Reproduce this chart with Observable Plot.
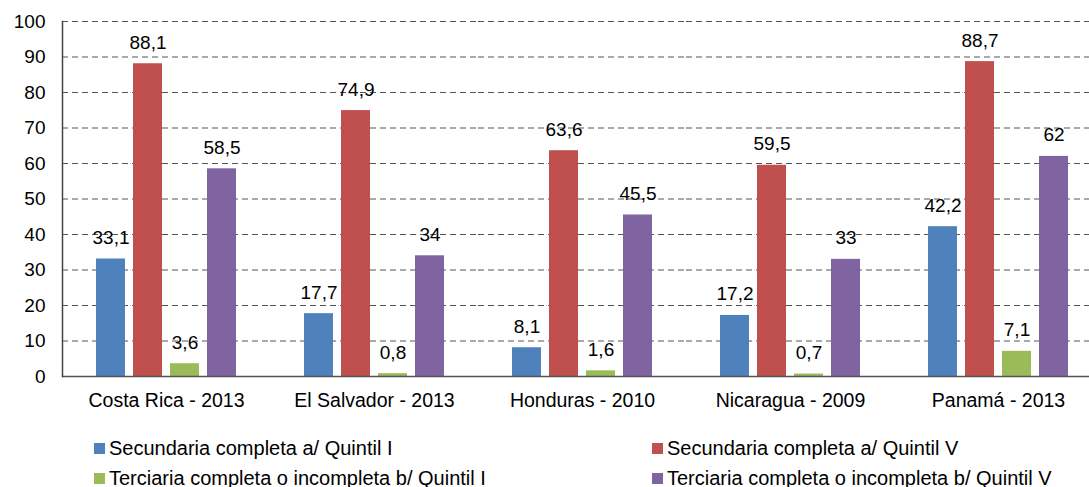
<!DOCTYPE html>
<html>
<head>
<meta charset="utf-8">
<script src="https://cdn.jsdelivr.net/npm/d3@7"></script>
<script src="https://cdn.jsdelivr.net/npm/@observablehq/plot@0.6"></script>
<style>
  html, body { margin: 0; padding: 0; background: #fff; overflow: hidden; }
  body { font-family: "Liberation Sans", Arial, sans-serif; width: 1089px; }
  #chart svg { display: block; max-width: none !important; }
  .legend { display: grid; grid-template-columns: 558px auto; padding-left: 94px; padding-top: 13px; font-size: 20px; color: #000; }
  .legend .item { display: flex; align-items: center; height: 30px; white-space: nowrap; }
  .legend .sw { width: 11px; height: 11px; margin-right: 4px; flex: none; }
</style>
</head>
<body>
<div id="chart"></div>
<div class="legend" id="legend"></div>
<script>
const categories = ["Costa Rica - 2013", "El Salvador - 2013", "Honduras - 2010", "Nicaragua - 2009", "Panamá - 2013"];
const series = [
  "Secundaria completa a/ Quintil I",
  "Secundaria completa a/ Quintil V",
  "Terciaria completa o incompleta b/ Quintil I",
  "Terciaria completa o incompleta b/ Quintil V"
];
const secundariaQ1 = [33.1, 17.7, 8.1, 17.2, 42.2];
const secundariaQ5 = [88.1, 74.9, 63.6, 59.5, 88.7];
const terciariaQ1 = [3.6, 0.8, 1.6, 0.7, 7.1];
const terciariaQ5 = [58.5, 34, 45.5, 33, 62];
const colors = ["#4F81BD", "#C0504D", "#9BBB59", "#8064A2"];
const yTicks = [0, 10, 20, 30, 40, 50, 60, 70, 80, 90, 100];

const seriesValues = [secundariaQ1, secundariaQ5, terciariaQ1, terciariaQ5];
const data = categories.flatMap((c, i) =>
  series.map((s, j) => ({category: c, series: s, value: seriesValues[j][i]}))
);
const fmt = v => String(v).replace(".", ",");

const chart = Plot.plot({
  width: 1102,
  height: 420,
  marginLeft: 61,
  marginRight: 0,
  marginTop: 21,
  marginBottom: 44,
  style: {fontFamily: "'Liberation Sans', Arial, sans-serif", fontSize: "19px", color: "#000", background: "#fff", maxWidth: "none"},
  fx: {domain: categories, padding: 0, label: null, axis: null},
  x: {domain: series, paddingInner: 0.204, paddingOuter: 0.862, axis: null},
  y: {domain: [0, 100], axis: null},
  color: {domain: series, range: colors},
  marks: [
    Plot.gridY(yTicks, {stroke: "#555", strokeOpacity: 1, strokeWidth: 1, strokeDasharray: "6,4"}),
    Plot.barY(data, {fx: "category", x: "series", y: "value", fill: "series"}),
    Plot.text(data, {fx: "category", x: "series", y: "value", text: d => fmt(d.value), lineAnchor: "bottom", dy: -15, fontSize: 19, fill: "#000"}),
    Plot.ruleY([0], {stroke: "#555", strokeWidth: 1.5}),
    Plot.axisY(yTicks, {tickSize: 0, tickPadding: 17, tickFormat: d => String(d), fontSize: 19, label: null}),
    Plot.frame({anchor: "left", facetAnchor: "left", stroke: "#444", strokeWidth: 1.5}),
    Plot.axisFx({anchor: "bottom", tickSize: 0, tickPadding: 17, fontSize: 19.5, label: null})
  ]
});
document.getElementById("chart").appendChild(chart);

const legend = document.getElementById("legend");
series.forEach((s, j) => {
  const item = document.createElement("div");
  item.className = "item";
  const sw = document.createElement("span");
  sw.className = "sw";
  sw.style.background = colors[j];
  const t = document.createElement("span");
  t.textContent = s;
  item.appendChild(sw);
  item.appendChild(t);
  legend.appendChild(item);
});
</script>
</body>
</html>
